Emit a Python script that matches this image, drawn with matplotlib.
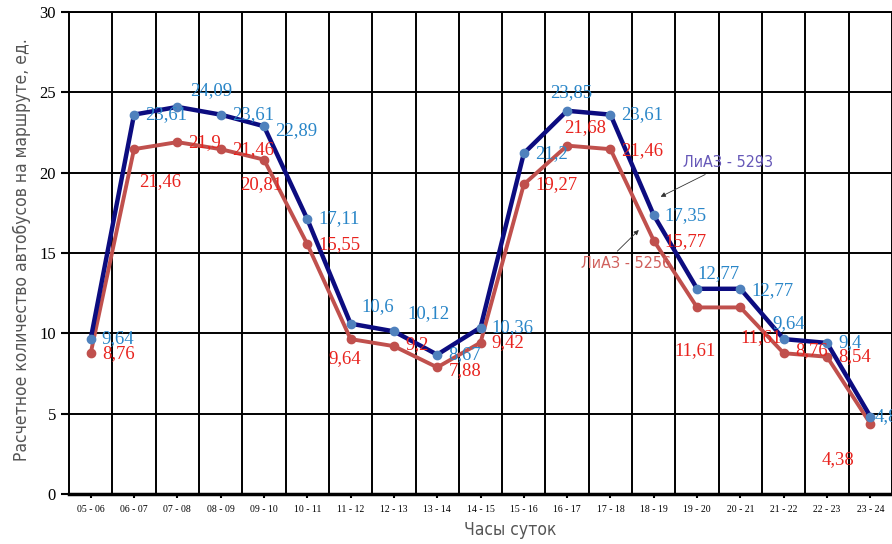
import numpy as np
import matplotlib
matplotlib.use('Agg')
import matplotlib.pyplot as plt

hours = ['05 - 06', '06 - 07', '07 - 08', '08 - 09', '09 - 10', '10 - 11', '11 - 12',
         '12 - 13', '13 - 14', '14 - 15', '15 - 16', '16 - 17', '17 - 18', '18 - 19',
         '19 - 20', '20 - 21', '21 - 22', '22 - 23', '23 - 24']
liaz_5293 = [9.64, 23.61, 24.09, 23.61, 22.89, 17.11, 10.6, 10.12, 8.67, 10.36,
             21.2, 23.85, 23.61, 17.35, 12.77, 12.77, 9.64, 9.4, 4.82]
liaz_5256 = [8.76, 21.46, 21.9, 21.46, 20.81, 15.55, 9.64, 9.2, 7.88, 9.42,
             19.27, 21.68, 21.46, 15.77, 11.61, 11.61, 8.76, 8.54, 4.38]

# label offsets in points (dx, dy), tuned by eye
off_5293 = [(8, 0), (8, 0), (9, 12), (8, 0), (8, -3), (8, 0), (8, 12), (10, 13), (8, 0), (8, 0),
            (8, 0), (-12, 13), (8, 0), (8, 0), (0, 11), (8, -1), (-8, 11), (8, 0), (3, 0)]
off_5256 = [(8, 0), (4, -23), (8, 0), (8, 0), (-17, -18), (8, 0), (-16, -14), (8, 1), (8, -2), (8, 0),
            (8, 0), (-2, 13), (8, -1), (8, -1), (-16, -31), (0, -22), (8, 2), (8, 0), (-35, -26)]

serif = 'Liberation Serif'
narrow = dict(family='DejaVu Sans', stretch='condensed')

fig = plt.figure(figsize=(8.92, 5.44), dpi=100)
ax = fig.add_axes([0.0774, 0.092, 0.9226, 0.886])

x = np.arange(len(hours))
ax.plot(x, liaz_5293, color='#0c0c80', lw=3.2, zorder=4, clip_on=False)
ax.plot(x, liaz_5293, 'o', color='#4f81bd', ms=6, zorder=5, clip_on=False)
ax.plot(x, liaz_5256, color='#c0504d', lw=2.8, zorder=3, clip_on=False)
ax.plot(x, liaz_5256, 'o', color='#c0504d', ms=6, zorder=3, clip_on=False)

for i in range(len(x)):
    ax.annotate(('%g' % liaz_5293[i]).replace('.', ','), (x[i], liaz_5293[i]),
                xytext=off_5293[i], textcoords='offset points', va='center', ha='left',
                color='#2a86c8', fontsize=13.5, family=serif, zorder=6)
    ax.annotate(('%g' % liaz_5256[i]).replace('.', ','), (x[i], liaz_5256[i]),
                xytext=off_5256[i], textcoords='offset points', va='center', ha='left',
                color='#e8231e', fontsize=13.5, family=serif, zorder=6)

# series callouts
ax.annotate('ЛиАЗ - 5293', xy=(13.1, 18.42), xytext=(13.68, 20.6),
            color='#6658b8', fontsize=11.5, va='center', ha='left', **narrow,
            arrowprops=dict(arrowstyle='-|>', color='#333333', lw=0.6, mutation_scale=7))
ax.annotate('ЛиАЗ - 5256', xy=(12.7, 16.55), xytext=(13.4, 14.35),
            color='#d0605c', fontsize=11.5, va='center', ha='right', **narrow,
            arrowprops=dict(arrowstyle='-|>', color='#333333', lw=0.6, mutation_scale=7,
                            relpos=(0.35, 1.0)))

ax.set_xlim(-0.5, len(hours) - 0.5)
ax.set_ylim(0, 30)
ax.set_yticks(range(0, 31, 5))
ax.set_xticks(x)
ax.set_xticklabels(hours, fontsize=7, family=serif)
ax.set_xticks(np.arange(0.5, len(hours) - 0.5, 1), minor=True)
ax.tick_params(axis='x', which='major', length=3, width=1.5, pad=5)
ax.tick_params(axis='x', which='minor', length=0)
ax.tick_params(axis='y', length=6, width=1.5, labelsize=12)
for lbl in ax.get_yticklabels():
    lbl.set_family(serif)
ax.grid(True, which='minor', axis='x', color='black', lw=1.4)
ax.grid(True, which='major', axis='y', color='black', lw=1.4)
ax.set_axisbelow(True)
for s in ax.spines.values():
    s.set_linewidth(1.4)
ax.spines['bottom'].set_linewidth(2.5)

ax.set_ylabel('Расчетное количество автобусов на маршруте, ед.', fontsize=12.5,
              color='#555555', **narrow)
ax.yaxis.set_label_coords(-0.057, 0.506)
ax.set_xlabel('Часы суток', fontsize=12.5, color='#555555', **narrow)
ax.xaxis.set_label_coords(0.536, -0.075)
ax.xaxis.label.set_va('center')
ax.yaxis.label.set_va('center')

fig.savefig('out.png', dpi=100)
